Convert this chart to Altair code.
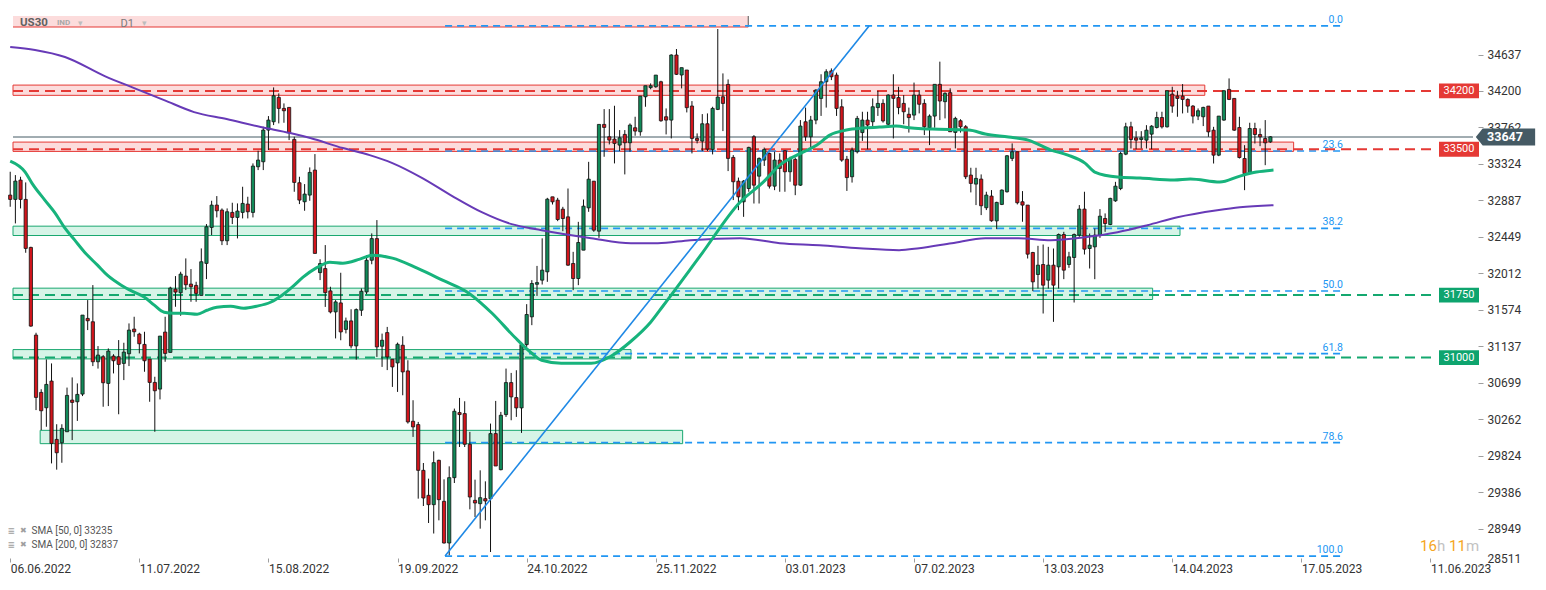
import altair as alt
import pandas as pd

# ---------------- data ----------------
OPEN = [32950, 32898, 33130, 32898, 32322, 31270, 30582, 30398, 30718, 30018,
        29978, 30110, 30490, 30470, 30562, 31470, 31430, 30950, 31010, 30690,
        31018, 31010, 30930, 31046, 31342, 31282, 31158, 30982, 30702, 30622,
        31306, 31062, 31822, 31778, 31978, 31882, 31866, 31746, 32130, 32562,
        32830, 32770, 32402, 32742, 32682, 32742, 32842, 32742, 33290, 33350,
        33730, 33830, 34122, 33990, 34002, 33618, 33098, 32870, 32950, 33250,
        32020, 32068, 31800, 31548, 31656, 31338, 31440, 31140, 31568, 31788,
        32168, 32428, 31136, 31300, 30980, 30936, 31148, 30840, 30236, 30196,
        29647, 29347, 29235, 29767, 29275, 28775, 29559, 30340, 30328, 29960,
        29287, 29247, 29307, 29307, 30088, 29655, 30316, 30700, 30520, 30396,
        31156, 31489, 31880, 31929, 32029, 32929, 32889, 32781, 32689, 32129,
        31949, 32289, 32797, 33117, 32517, 33798, 33650, 33622, 33550, 33678,
        33578, 33758, 33710, 34130, 34240, 34250, 34310, 33890, 33850, 34631,
        34391, 34451, 34019, 33630, 33598, 33806, 33498, 33978, 34130, 34278,
        33402, 33117, 32869, 33029, 33650, 33177, 33370, 33450, 33057, 33370,
        33482, 33230, 33378, 33069, 33830, 33650, 33850, 34110, 34310, 34440,
        34390, 34010, 33380, 33170, 33470, 33700, 33850, 33830, 34000, 34050,
        33800, 34151, 34120, 34050, 33920, 33910, 34150, 34050, 33758, 33898,
        34279, 34071, 34179, 33702, 33842, 33770, 33190, 33082, 33142, 32798,
        32938, 32640, 32838, 32990, 33390, 33470, 32870, 32830, 32261, 31997,
        32117, 31929, 32109, 32089, 32477, 32117, 32201, 32469, 32782, 32309,
        32329, 32469, 32669, 32597, 32881, 33029, 33441, 33770, 33637, 33617,
        33609, 33681, 33761, 33881, 33769, 34162, 34138, 34138, 34098, 34018,
        33898, 33890, 34018, 33729, 33429, 33850, 34218, 34110, 33761, 33389,
        33209, 33749, 33677, 33629, 33589]
HIGH = [33230, 33190, 33170, 33102, 32330, 31298, 30620, 30978, 30930, 30200,
        30200, 30640, 30762, 30690, 31510, 31690, 31870, 31138, 31030, 31110,
        31040, 31210, 31178, 31410, 31490, 31298, 31310, 30982, 30770, 31258,
        31490, 31850, 31978, 32030, 32190, 32062, 31910, 32310, 32602, 32882,
        32938, 32790, 32790, 32858, 32850, 33050, 32930, 33330, 33482, 33770,
        33898, 34242, 34170, 34050, 34002, 33650, 33170, 33082, 33282, 33442,
        32180, 32350, 31850, 31690, 32018, 31480, 31580, 31590, 31830, 32230,
        32490, 32650, 31288, 31368, 30980, 31180, 31256, 30968, 30488, 30228,
        29735, 29547, 29875, 29775, 29539, 29695, 30388, 30516, 30476, 30108,
        29535, 29647, 29515, 30208, 30480, 30348, 30868, 30816, 30848, 31168,
        31641, 31929, 32100, 32431, 32917, 32929, 32917, 32809, 33029, 32269,
        32629, 32897, 33349, 33117, 33798, 33982, 33982, 34022, 33730, 33730,
        33810, 33890, 34138, 34262, 34290, 34390, 34322, 33990, 34639, 34703,
        34479, 34451, 34078, 33690, 33922, 33930, 34010, 34943, 34410, 34338,
        33430, 33160, 33130, 33530, 33670, 33402, 33520, 33460, 33470, 33450,
        33490, 33410, 33400, 33850, 34000, 33900, 34220, 34400, 34460, 34470,
        34420, 34100, 33420, 33520, 33900, 33950, 33950, 34110, 34200, 34100,
        34160, 34400, 34250, 34150, 34000, 34300, 34210, 34100, 33918, 34279,
        34551, 34183, 34231, 33890, 33860, 33790, 33278, 33278, 33198, 32990,
        33010, 32870, 33018, 33430, 33570, 33470, 32998, 32830, 32269, 32341,
        32357, 32329, 32309, 32489, 32509, 32269, 32489, 32830, 32990, 32489,
        32549, 32782, 32730, 32918, 33109, 33469, 33818, 33830, 33717, 33717,
        33789, 33789, 33950, 33950, 34202, 34250, 34202, 34282, 34110, 34030,
        33990, 34010, 34018, 33769, 33898, 34210, 34350, 34110, 33890, 33549,
        33818, 33818, 33749, 33850, 33657]
LOW = [32810, 32610, 32790, 32258, 31370, 30370, 30130, 30170, 29730, 29655,
       29738, 30110, 30010, 30240, 30538, 31330, 30898, 30868, 30410, 30418,
       30810, 30320, 30730, 30898, 31250, 31050, 30830, 30470, 30110, 30498,
       30950, 31062, 31610, 31502, 31810, 31670, 31670, 31746, 31942, 32470,
       32682, 32350, 32350, 32602, 32430, 32670, 32670, 32682, 33250, 33250,
       33490, 33790, 33810, 33818, 33610, 32990, 32842, 32762, 32882, 32250,
       31930, 31608, 31530, 31230, 31208, 31290, 31110, 30975, 31500, 31760,
       32120, 31008, 30888, 30850, 30648, 30588, 30548, 30208, 30048, 29307,
       29219, 29015, 28889, 29047, 28769, 28629, 29495, 29927, 29927, 29179,
       29087, 28947, 29047, 28667, 29699, 29647, 30288, 30248, 30288, 30096,
       31128, 31389, 31740, 31877, 31909, 32837, 32637, 32517, 32101, 31809,
       31869, 32289, 32749, 32509, 32437, 33410, 33558, 33330, 33478, 33198,
       33470, 33662, 33662, 34010, 34220, 34238, 33830, 33678, 33630, 34391,
       34230, 33942, 33450, 33570, 33478, 33478, 33438, 33970, 33718, 33238,
       32890, 32769, 32689, 32990, 32849, 32849, 33300, 33029, 33009, 32990,
       32990, 33110, 32949, 33060, 33600, 33500, 33800, 33900, 34000, 34330,
       33900, 33350, 33000, 33100, 33450, 33600, 33500, 33750, 33900, 33820,
       33780, 33630, 33920, 33800, 33700, 33850, 33930, 33670, 33550, 33758,
       33850, 33870, 33710, 33510, 33700, 33142, 32982, 32830, 32710, 32770,
       32630, 32541, 32830, 32980, 33358, 32838, 32630, 32189, 31797, 31829,
       31529, 31829, 31429, 31829, 31941, 32077, 31661, 32449, 32237, 32069,
       31941, 32437, 32509, 32589, 32869, 33009, 33429, 33509, 33501, 33509,
       33509, 33501, 33749, 33749, 33761, 33938, 33890, 33930, 33938, 33810,
       33850, 33778, 33649, 33329, 33417, 33842, 34090, 33721, 33389, 33009,
       33201, 33569, 33537, 33309, 33577]
CLOSE = [32898, 33118, 32898, 32310, 31378, 30522, 30362, 30678, 29970, 29858,
         30150, 30546, 30462, 30558, 31510, 31442, 30950, 31030, 30698, 31078,
         30962, 30918, 31066, 31330, 31310, 31166, 30962, 30702, 30602, 31258,
         31050, 31834, 31786, 32002, 31874, 31850, 31770, 32150, 32570, 32830,
         32762, 32402, 32750, 32682, 32758, 32850, 32750, 33298, 33370, 33730,
         33850, 34142, 33990, 33962, 33698, 33102, 32890, 32962, 33222, 32250,
         32128, 31780, 31548, 31668, 31308, 31440, 31140, 31576, 31796, 32168,
         32428, 31128, 31208, 31008, 30888, 31160, 30828, 30228, 30168, 29647,
         29315, 29235, 29739, 29295, 28775, 29559, 30356, 30316, 29960, 29327,
         29255, 29319, 29279, 30088, 29699, 30308, 30700, 30528, 30396, 31156,
         31517, 31889, 31900, 32049, 32901, 32869, 32657, 32669, 32109, 31949,
         32381, 32817, 33141, 32529, 33798, 33762, 33610, 33570, 33638, 33578,
         33790, 33718, 34138, 34262, 34262, 34390, 33842, 33850, 34631, 34399,
         34479, 33999, 33630, 33606, 33806, 33502, 33990, 34126, 34050, 33390,
         33110, 32929, 33117, 33522, 33069, 33390, 33498, 33057, 33370, 33270,
         33230, 33378, 33069, 33778, 33650, 33850, 34210, 34310, 34430, 34370,
         33990, 33370, 33160, 33490, 33870, 33850, 33790, 34010, 34050, 33840,
         34150, 34111, 34000, 33950, 33880, 34150, 34040, 33770, 33898, 34279,
         34079, 34171, 33710, 33870, 33770, 33170, 33090, 33150, 32822, 32950,
         32642, 32862, 33010, 33422, 33470, 32858, 32830, 32241, 31909, 32109,
         31869, 32109, 31869, 32477, 32049, 32209, 32477, 32782, 32301, 32349,
         32469, 32697, 32609, 32910, 33057, 33449, 33770, 33617, 33609, 33637,
         33729, 33777, 33881, 33769, 34202, 34018, 34110, 34098, 34018, 33898,
         33962, 34002, 33709, 33429, 33898, 34202, 34098, 33729, 33401, 33209,
         33749, 33677, 33649, 33577, 33649]

SMA50_IDX = [0, 2.9, 4.2, 6.7, 8.7, 10.6, 12.5, 14.4, 16.9, 18.8, 21.5, 24, 26, 27.9, 29.8,
             31.7, 33.7, 36.2, 38.1, 40, 42.7, 45.2, 47.7, 50.4, 52.9, 54.8, 56.7, 59.2, 61.9,
             64.4, 67.7, 70.2, 74, 78.8, 83.7, 88.8, 93.3, 97.7, 101, 102.9, 106.7, 112.5,
             116.3, 120.2, 124, 126.5, 133.7, 141.3, 145.8, 149, 153.5, 156.2, 158.7, 161.9,
             165, 168.3, 171.5, 174.6, 178.5, 185.6, 188.8, 193.3, 197.1, 201.5, 204.8, 208.1,
             210, 214.4, 218.8, 225.4, 228.5, 234.2, 238.1, 241.3, 244.6]
SMA50_VAL = [33358, 33226, 33094, 32890, 32734, 32553, 32409, 32265, 32109, 31989, 31869, 31785,
             31725, 31629, 31545, 31532, 31532, 31520, 31568, 31604, 31616, 31592, 31616, 31664,
             31760, 31857, 31965, 32073, 32145, 32133, 32181, 32229, 32193, 32073, 31929, 31773,
             31532, 31244, 31052, 30968, 30932, 30932, 31016, 31196, 31424, 31628, 32229, 32865,
             33105, 33310, 33466, 33550, 33670, 33730, 33754, 33766, 33778, 33754, 33742, 33730,
             33682, 33646, 33610, 33490, 33430, 33334, 33226, 33166, 33154, 33130, 33142, 33106,
             33178, 33226, 33250]
SMA200_IDX = [0, 4.8, 10.6, 18.3, 24, 29.8, 35.6, 41.9, 48.5, 54.2, 58.1, 64.4, 69.6, 74, 79.8,
              85.6, 91.3, 97.1, 102.9, 112.5, 120.2, 125.4, 131.7, 141.3, 149, 156.7, 164.4,
              172.1, 176, 182.3, 188.8, 195.2, 201.5, 208.1, 214.4, 220.2, 226, 233.7, 238.1, 244.6]
SMA200_VAL = [34727, 34691, 34607, 34378, 34234, 34090, 33946, 33862, 33766, 33694, 33634, 33514,
              33430, 33334, 33154, 32938, 32745, 32601, 32529, 32433, 32373, 32373, 32409, 32433,
              32373, 32349, 32313, 32289, 32313, 32373, 32433, 32433, 32409, 32445, 32505, 32589,
              32685, 32769, 32805, 32829]

TICK_IDX = [0, 25, 50, 75, 100, 125, 150, 175, 200, 225, 250, 275]
TICK_LABELS = ["06.06.2022", "11.07.2022", "15.08.2022", "19.09.2022", "24.10.2022",
               "25.11.2022", "03.01.2023", "07.02.2023", "13.03.2023", "14.04.2023",
               "17.05.2023", "11.06.2023"]
Y_TICKS = [28511, 28949, 29386, 29824, 30262, 30699, 31137, 31574, 32012, 32449,
           32887, 33324, 33762, 34200, 34637]

X_MIN, X_MAX = 0.54, 283.23
Y_MIN, Y_MAX = 28511, 35195

RED_LEVELS = [34200, 33500]
GREEN_LEVELS = [31750, 31000]
LEVEL_END = 275.8
LAST_PRICE = 33647

# zones: start index, end index, low, high, kind
ZONE_X0 = [X_MIN, X_MIN, X_MIN, X_MIN, X_MIN, 5.8]
ZONE_X1 = [231.3, 248.5, 226.5, 221.2, 120.2, 130.2]
ZONE_LO = [34147, 33474, 32465, 31697, 30984, 29967]
ZONE_HI = [34270, 33586, 32577, 31833, 31096, 30127]
ZONE_KIND = ["red", "red", "green", "green", "green", "green"]

HEADER_ZONE = (X_MIN, 142.9, 34967, 35099)

FIB_LABELS = ["0.0", "23.6", "38.2", "50.0", "61.8", "78.6", "100.0"]
FIB_PRICES = [34980, 33479, 32550, 31799, 31048, 29980, 28618]
FIB_X0, FIB_X1 = 84.2, 258.0
TREND = (84.2, 28618, 166.3, 34980)

SMA_LEGEND = ["SMA [50, 0] 33235", "SMA [200, 0] 32837"]

# ---------------- styling ----------------
FONT = "Roboto"
GREEN_BODY = "#118a59"
RED_BODY = "#d2151c"
RED_LINE = "#e53935"
GREEN_LINE = "#14a86f"
BLUE = "#2196f3"

XS = alt.Scale(domain=[X_MIN, X_MAX], nice=False, zero=False)
YS = alt.Scale(domain=[Y_MIN, Y_MAX], nice=False, zero=False)
label_expr = "[" + ",".join("'%s'" % s for s in TICK_LABELS) + "][round(datum.value / 25)]"
XA = alt.Axis(orient="bottom", values=TICK_IDX, labelExpr=label_expr, domain=False, grid=False,
              tickSize=4, tickColor="#9e9e9e", labelAlign="left", labelBaseline="top",
              labelFlush=False, labelPadding=1, labelFont=FONT, labelFontSize=12,
              labelColor="#333333", labelOverlap=False, offset=-7, title=None)
YA = alt.Axis(orient="right", values=Y_TICKS, domain=False, grid=False, tickSize=5,
              tickColor="#9e9e9e", labelPadding=4, labelFont=FONT, labelFontSize=12,
              labelColor="#333333", labelFlush=True, labelOverlap=False, title=None, format="d")


def X(f):
    return alt.X(f, type="quantitative", scale=XS, axis=XA)


def Y(f):
    return alt.Y(f, type="quantitative", scale=YS, axis=YA)


one = pd.DataFrame({"a": [0]})

cdf = pd.DataFrame({"i": list(range(len(OPEN))), "o": OPEN, "h": HIGH, "l": LOW, "c": CLOSE})
cdf["col"] = [GREEN_BODY if c >= o else RED_BODY for o, c in zip(OPEN, CLOSE)]

zdf = pd.DataFrame({"x0": ZONE_X0, "x1": ZONE_X1, "lo": ZONE_LO, "hi": ZONE_HI})
zdf["fill"] = ["#fcdcdc" if k == "red" else "#d6f4e7" for k in ZONE_KIND]
zdf["stroke"] = [RED_LINE if k == "red" else "#19a870" for k in ZONE_KIND]

hdf = pd.DataFrame({"x0": [HEADER_ZONE[0]], "x1": [HEADER_ZONE[1]],
                    "lo": [HEADER_ZONE[2]], "hi": [HEADER_ZONE[3]]})

ldf = pd.DataFrame({"v": RED_LEVELS + GREEN_LEVELS,
                    "x0": X_MIN, "x1": LEVEL_END,
                    "col": [RED_LINE] * len(RED_LEVELS) + [GREEN_LINE] * len(GREEN_LEVELS),
                    "box": ["#e53935"] * len(RED_LEVELS) + ["#0ea46e"] * len(GREEN_LEVELS)})
ldf["txt"] = [str(v) for v in ldf["v"]]

fdf = pd.DataFrame({"v": FIB_PRICES, "lbl": FIB_LABELS, "x0": FIB_X0, "x1": FIB_X1})
tdf = pd.DataFrame({"x0": [TREND[0]], "y0": [TREND[1]], "x1": [TREND[2]], "y1": [TREND[3]]})
pdf = pd.DataFrame({"v": [LAST_PRICE], "x0": [X_MIN], "x1": [X_MAX], "txt": [str(LAST_PRICE)]})
s50 = pd.DataFrame({"i": SMA50_IDX, "v": SMA50_VAL})
s200 = pd.DataFrame({"i": SMA200_IDX, "v": SMA200_VAL})

layers = []

# zones
layers.append(alt.Chart(zdf).mark_rect(strokeWidth=1).encode(
    x=X("x0"), x2="x1", y=Y("lo"), y2="hi",
    fill=alt.Fill("fill:N", scale=None), stroke=alt.Stroke("stroke:N", scale=None)))
layers.append(alt.Chart(hdf).mark_rect(fill="#fcdcdc").encode(
    x=X("x0"), x2="x1", y=Y("lo"), y2="hi"))
layers.append(alt.Chart(hdf).mark_rule(color=RED_LINE, strokeWidth=1).encode(
    x=X("x0"), x2="x1", y=Y("lo")))
layers.append(alt.Chart(hdf).mark_rule(color="#555555", strokeWidth=1).encode(
    x=X("x1"), y=Y("lo"), y2="hi"))

# fib lines and labels
layers.append(alt.Chart(fdf).mark_rule(color=BLUE, strokeWidth=1.6, strokeDash=[7, 5]).encode(
    x=X("x0"), x2="x1", y=Y("v")))
layers.append(alt.Chart(fdf).mark_text(align="right", baseline="bottom", dy=-1, font=FONT,
                                       fontSize=10.5, color=BLUE).encode(
    x=alt.value(1335), y=Y("v"), text="lbl:N"))

# level lines
layers.append(alt.Chart(ldf).mark_rule(strokeWidth=2, strokeDash=[10, 6]).encode(
    x=X("x0"), x2="x1", y=Y("v"), color=alt.Color("col:N", scale=None)))

# last price line
layers.append(alt.Chart(pdf).mark_rule(color="#455a64", strokeWidth=1).encode(
    x=X("x0"), x2="x1", y=Y("v")))

# candles
layers.append(alt.Chart(cdf).mark_rule(color="#111111", strokeWidth=1).encode(
    x=X("i"), y=Y("l"), y2="h"))
layers.append(alt.Chart(cdf).mark_bar(width=3.2, stroke="#111111", strokeWidth=0.8).encode(
    x=X("i"), y=Y("o"), y2="c", color=alt.Color("col:N", scale=None)))

# moving averages
layers.append(alt.Chart(s200).mark_line(color="#673ab7", strokeWidth=2, interpolate="monotone").encode(
    x=X("i"), y=Y("v")))
layers.append(alt.Chart(s50).mark_line(color="#17b37c", strokeWidth=3, interpolate="monotone").encode(
    x=X("i"), y=Y("v")))

# trendline
layers.append(alt.Chart(tdf).mark_rule(color="#1e88e5", strokeWidth=1.6).encode(
    x=X("x0"), x2="x1", y=Y("y0"), y2="y1"))

# level label boxes
BOX = "M-1,-0.37 L1,-0.37 L1,0.37 L-1,0.37 Z"
layers.append(alt.Chart(ldf).mark_point(shape=BOX, size=1600, filled=True, opacity=1, strokeWidth=0).encode(
    x=alt.value(1451), y=Y("v"), color=alt.Color("box:N", scale=None)))
layers.append(alt.Chart(ldf).mark_text(font=FONT, fontSize=11, color="white", baseline="middle").encode(
    x=alt.value(1451), y=Y("v"), text="txt:N"))

# last price label
ARROW = "M-1,0 L-0.77,-0.285 L1,-0.285 L1,0.285 L-0.77,0.285 Z"
layers.append(alt.Chart(pdf).mark_point(shape=ARROW, size=3516, filled=True, opacity=1, strokeWidth=0,
                                        color="#455a64").encode(
    x=alt.value(1497.5), y=Y("v")))
layers.append(alt.Chart(pdf).mark_text(font=FONT, fontSize=12.5, fontWeight="bold", color="white",
                                       baseline="middle").encode(
    x=alt.value(1497), y=Y("v"), text="txt:N"))


def txt(s, x, y, size, color, weight="normal", align="left"):
    return alt.Chart(one).mark_text(text=s, font=FONT, fontSize=size, color=color, fontWeight=weight,
                                    align=align, baseline="middle").encode(
        x=alt.value(x), y=alt.value(y))


layers += [
    txt("US30", 12, 14.5, 11.5, "#616161", "bold"),
    txt("IND", 49, 14.5, 8, "#a8a8a8", "bold"),
    txt("\u25BE", 70, 14.5, 9, "#bdbdbd"),
    txt("D1", 112.5, 15.5, 11, "#7a7a7a"),
    txt("\u25BE", 134, 14.5, 9, "#bdbdbd"),
    txt("\u2261", 0, 523, 12, "#9e9e9e", "bold"),
    txt("\u2716", 12, 523, 8, "#9e9e9e"),
    txt(SMA_LEGEND[0], 23.5, 523, 10, "#555555"),
    txt("\u2261", 0, 537, 12, "#9e9e9e", "bold"),
    txt("\u2716", 12, 537, 8, "#9e9e9e"),
    txt(SMA_LEGEND[1], 23.5, 537, 10, "#555555"),
    txt("16", 1412, 538, 15, "#f5a623"),
    txt("h", 1429, 538, 15, "#c2c2c2"),
    txt("11", 1441, 538, 15, "#f5a623"),
    txt("m", 1458, 538, 15, "#c2c2c2"),
]

chart = alt.layer(*layers).properties(
    width=1470, height=557,
    autosize=alt.AutoSizeParams(type="none"),
    padding={"left": 0, "top": 0, "right": 58, "bottom": 17},
    background="white",
).configure_view(stroke=None)

chart.save("out.html", embed_options={"renderer": "svg", "actions": False})
